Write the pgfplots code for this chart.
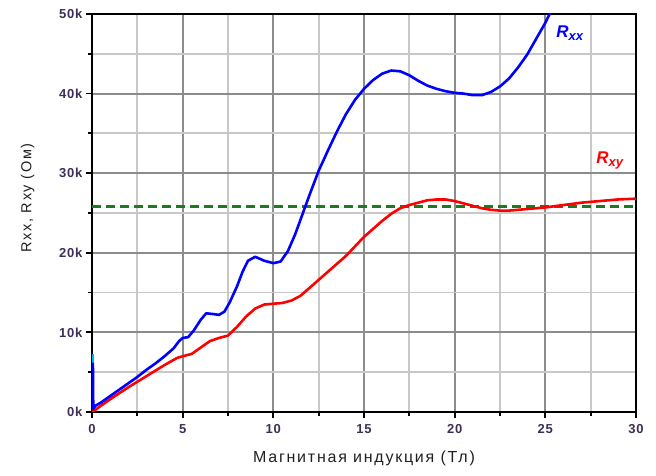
\documentclass[border=0pt]{standalone}
\usepackage{fontspec}
\setmainfont{Liberation Sans}
\usepackage{pgfplots}
\pgfplotsset{compat=1.18}
\definecolor{ticklab}{HTML}{3E2E55}
\definecolor{majgrid}{HTML}{8C8C8C}
\definecolor{mingrid}{HTML}{C8C8C8}
\definecolor{dgreen}{HTML}{1E7A1E}
\newfontfamily\labfont[LetterSpace=11]{Liberation Sans}
\newfontfamily\tickfont[LetterSpace=6]{Liberation Sans}
\begin{document}
\begin{tikzpicture}
\path[use as bounding box] (-92pt,-64pt) rectangle (564pt,412pt);
\begin{axis}[
  scale only axis, width=544pt, height=398pt,
  xmin=0, xmax=30, ymin=0, ymax=50,
  xtick={0,5,10,15,20,25,30},
  minor xtick={2.5,7.5,12.5,17.5,22.5,27.5},
  ytick={0,10,20,30,40,50},
  yticklabels={0k,10k,20k,30k,40k,50k},
  minor ytick={5,15,25,35,45},
  grid=both,
  major grid style={majgrid, line width=2pt},
  minor grid style={mingrid, line width=1.8pt},
  axis line style={black, line width=2.2pt},
  tick style={black, line width=1.8pt},
  major tick length=6pt, minor tick length=4pt,
  tick align=outside,
  xtick pos=bottom, ytick pos=left,
  ticklabel style={font=\tickfont\bfseries\fontsize{13}{13}\selectfont, text=ticklab},
  xticklabel style={yshift=-3pt},
  /pgf/number format/assume math mode=true,
  xlabel={Магнитная индукция (Тл)},
  ylabel={Rxx, Rxy (Ом)},
  xlabel style={font=\labfont\fontsize{16}{16}\selectfont, text=black!88, yshift=-10pt},
  ylabel style={font=\labfont\fontsize{14.5}{14.5}\selectfont, text=black!88, yshift=18pt, xshift=15pt},
  clip=true,
]
\addplot[dgreen, line width=2.2pt, dash pattern=on 9pt off 5pt] coordinates {(0,25.81) (30,25.81)};
\addplot[red, line width=2.6pt, line join=round] coordinates {
(0,0)(0.2,0.3)(0.5,0.8)(1,1.6)(2,3.1)(3,4.5)(4,5.9)(4.7,6.8)(5,7.0)(5.5,7.3)(6,8.1)(6.5,8.9)(7,9.3)(7.5,9.6)(8,10.7)(8.5,12.0)(9,13.0)(9.5,13.5)(10,13.6)(10.5,13.7)(11,14.0)(11.5,14.6)(12,15.6)(12.5,16.6)(13,17.6)(13.5,18.6)(14,19.6)(14.5,20.8)(15,22.0)(15.5,23.0)(16,24.0)(16.5,24.9)(17,25.6)(17.5,26.0)(18,26.3)(18.5,26.6)(19,26.7)(19.5,26.7)(20,26.5)(20.5,26.2)(21,25.9)(21.5,25.6)(22,25.4)(22.5,25.3)(23,25.3)(23.5,25.4)(24,25.5)(25,25.7)(26,26.0)(27,26.3)(28,26.5)(29,26.7)(30,26.8)};
\addplot[cyan, line width=2.6pt] coordinates {(0.05,6.0) (0.05,7.3)};
\addplot[blue, line width=2.6pt, line join=round] coordinates {
(0.05,6.2)(0.07,0.4)(0.2,0.8)(0.5,1.2)(1,2.0)(1.5,2.8)(2,3.6)(2.5,4.4)(3,5.3)(3.5,6.1)(4,7.0)(4.5,8.0)(4.8,8.9)(5,9.3)(5.3,9.4)(5.6,10.2)(6,11.6)(6.3,12.4)(6.7,12.3)(7,12.2)(7.3,12.6)(7.6,13.8)(8,15.8)(8.3,17.6)(8.6,19.0)(9,19.5)(9.5,19.0)(10,18.7)(10.4,18.9)(10.8,20.2)(11.2,22.3)(11.6,24.8)(12,27.3)(12.5,30.3)(13,32.8)(13.5,35.2)(14,37.4)(14.5,39.2)(15,40.6)(15.5,41.7)(16,42.5)(16.5,42.9)(17,42.8)(17.5,42.3)(18,41.6)(18.5,41.0)(19,40.6)(19.5,40.3)(20,40.1)(20.5,40.0)(21,39.8)(21.5,39.8)(22,40.2)(22.5,40.9)(23,41.9)(23.5,43.3)(24,44.9)(24.5,46.9)(25,48.9)(25.3,50.3)(25.6,51.5)};
\node[anchor=west, text=blue, font=\bfseries\itshape\fontsize{17}{17}\selectfont, inner sep=0pt] at (axis cs:25.6,47.6) {R\textsubscript{\fontsize{13}{13}\selectfont xx}};
\node[anchor=west, text=red, font=\bfseries\itshape\fontsize{17}{17}\selectfont, inner sep=0pt] at (axis cs:27.8,31.6) {R\textsubscript{\fontsize{13}{13}\selectfont xy}};
\end{axis}
\end{tikzpicture}
\end{document}
